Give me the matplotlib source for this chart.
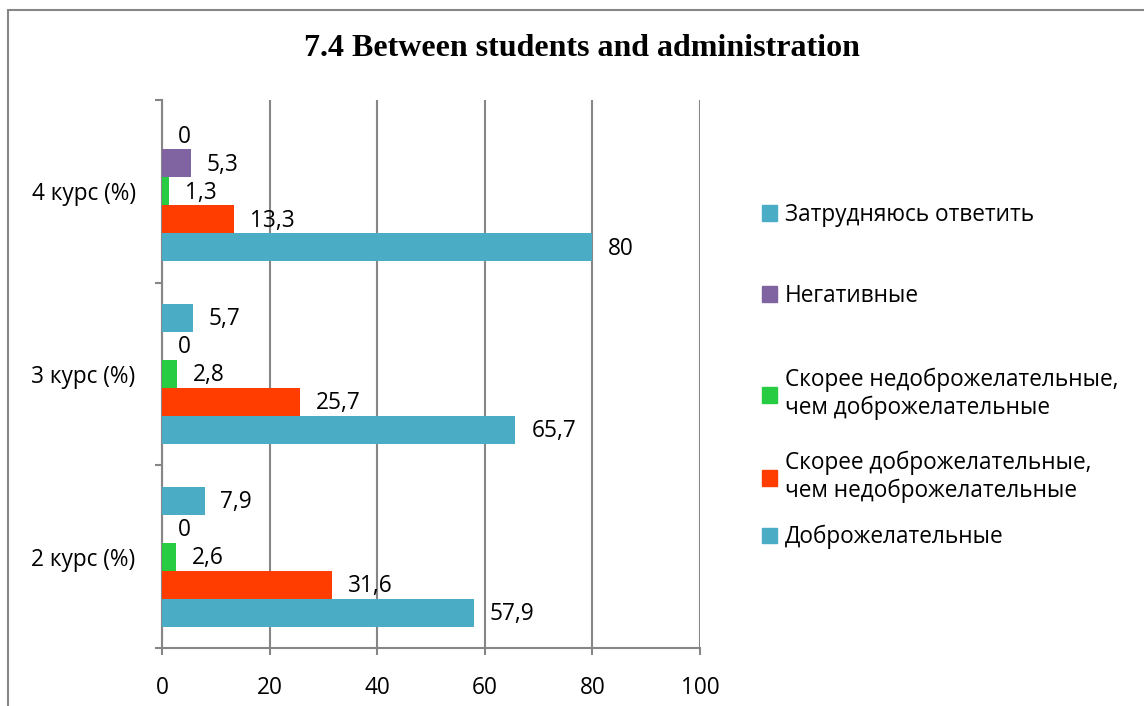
import numpy as np
import matplotlib.pyplot as plt
from matplotlib.patches import Rectangle, Patch

courses = ['2 курс (%)', '3 курс (%)', '4 курс (%)']
series = ['Доброжелательные',
          'Скорее доброжелательные,\nчем недоброжелательные',
          'Скорее недоброжелательные,\nчем доброжелательные',
          'Негативные',
          'Затрудняюсь ответить']
friendly = [57.9, 65.7, 80]
rather_friendly = [31.6, 25.7, 13.3]
rather_unfriendly = [2.6, 2.8, 1.3]
negative = [0, 0, 5.3]
hard_to_say = [7.9, 5.7, 0]
values = [friendly, rather_friendly, rather_unfriendly, negative, hard_to_say]
colors = ['#4BACC6', '#FF3D00', '#27CC43', '#8064A2', '#4BACC6']

font = 'Open Sans'
fs = 16.3

fig = plt.figure(figsize=(11.44, 7.06), dpi=100)
ax = fig.add_axes([162/1144, 1 - 648/706, 538/1144, 548/706])

# chart area border (cut off at the right and bottom in the original)
fig.patches.append(Rectangle((8/1144, -0.1), 1.2, 1 - 10/706 + 0.1, transform=fig.transFigure,
                             fill=False, edgecolor='#868686', linewidth=1.5))

y = np.arange(len(courses))
h = 0.153
for i, (vals, c) in enumerate(zip(values, colors)):
    ax.barh(y + (i - 2) * h, vals, height=h, color=c, zorder=3)
    for yy, v in zip(y + (i - 2) * h, vals):
        ax.annotate(f'{v:g}'.replace('.', ','), (v, yy), xytext=(11.5, -1), textcoords='offset points',
                    va='center', ha='left', fontsize=fs, family=font, color='black', zorder=4)

ax.set_xlim(0, 100)
ax.set_ylim(-0.5, 2.5)
ax.set_xticks([0, 20, 40, 60, 80, 100])
ax.set_yticks(y)
ax.set_yticklabels(courses)
ax.set_yticks([-0.5, 0.5, 1.5, 2.5], minor=True)
ax.tick_params(axis='y', which='major', length=0, pad=19, labelsize=fs)
ax.tick_params(axis='y', which='minor', length=5, width=1.5, color='#868686')
ax.tick_params(axis='x', length=5, width=1.5, color='#868686', pad=15, labelsize=fs)
for lab in ax.get_xticklabels() + ax.get_yticklabels():
    lab.set_family(font)
ax.grid(axis='x', color='#868686', linewidth=1.5, zorder=0)
for s in ['top', 'right']:
    ax.spines[s].set_visible(False)
for s in ['left', 'bottom']:
    ax.spines[s].set_color('#868686')
    ax.spines[s].set_linewidth(1.5)

fig.text(582/1144, 1 - 49/706, '7.4 Between students and administration', ha='center', va='center',
         fontsize=23, fontweight='bold', family='Liberation Serif')

# legend entries, placed one by one like in the original (top entry = last series)
leg_y = [215, 296, 394, 477, 537]
for i in range(len(series) - 1, -1, -1):
    pos = leg_y[len(series) - 1 - i]
    fig.legend(handles=[Patch(color=colors[i])], labels=[series[i]], loc='center left',
               bbox_to_anchor=(762/1144, 1 - pos/706), frameon=False,
               prop={'family': font, 'size': fs},
               handlelength=0.65, handleheight=0.65,
               handletextpad=0.35, borderaxespad=0, borderpad=0)

fig.savefig('out.png', dpi=100)
